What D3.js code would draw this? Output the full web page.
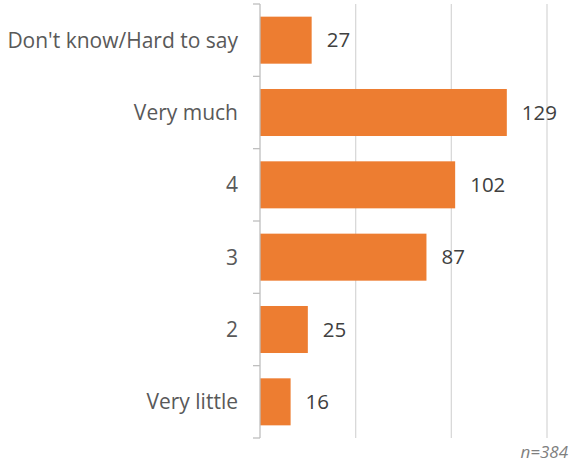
<!DOCTYPE html>
<html>
<head>
<meta charset="utf-8">
<script src="https://cdn.jsdelivr.net/npm/d3@7"></script>
<style>
  html, body { margin: 0; padding: 0; background: #fff; }
  svg { display: block; font-family: "Open Sans", sans-serif; }
</style>
</head>
<body>
<svg id="chart" width="571" height="464"></svg>
<script>
// Survey responses, top to bottom
const categories = ["Don't know/Hard to say", "Very much", "4", "3", "2", "Very little"];
const counts = [27, 129, 102, 87, 25, 16];
const gridTicks = [0, 50, 100, 150];
const note = "n=384";

const svg = d3.select("#chart");
const margin = { top: 4, left: 260, right: 24, bottom: 26 };
const width = 571, height = 464;

const x = d3.scaleLinear().domain([0, 150]).range([margin.left, width - margin.right]);
const y = d3.scaleBand().domain(categories)
  .range([margin.top, height - margin.bottom])
  .paddingInner(0.35).paddingOuter(0.175);

// vertical gridlines
svg.append("g").selectAll("line")
  .data(gridTicks.slice(1))
  .join("line")
  .attr("x1", d => x(d)).attr("x2", d => x(d))
  .attr("y1", margin.top).attr("y2", height - margin.bottom)
  .attr("stroke", "#d9d9d9").attr("stroke-width", 1.3);

// bars
svg.append("g").selectAll("rect")
  .data(categories)
  .join("rect")
  .attr("x", x(0))
  .attr("y", d => y(d))
  .attr("width", (d, i) => x(counts[i]) - x(0))
  .attr("height", y.bandwidth())
  .attr("fill", "#ed7d31");

// category axis with tick marks between bands
const axisG = svg.append("g");
axisG.append("line")
  .attr("x1", x(0)).attr("x2", x(0))
  .attr("y1", margin.top).attr("y2", height - margin.bottom)
  .attr("stroke", "#bfbfbf").attr("stroke-width", 1.3);
const step = y.step();
const bounds = d3.range(categories.length + 1).map(i => y.range()[0] + i * step);
axisG.selectAll("line.tick")
  .data(bounds)
  .join("line").attr("class", "tick")
  .attr("x1", x(0) - 7).attr("x2", x(0))
  .attr("y1", d => d).attr("y2", d => d)
  .attr("stroke", "#bfbfbf").attr("stroke-width", 1.3);

axisG.selectAll("text")
  .data(categories)
  .join("text")
  .attr("x", x(0) - 22)
  .attr("y", d => y(d) + y.bandwidth() / 2)
  .attr("dy", "0.35em")
  .attr("text-anchor", "end")
  .attr("font-size", 21)
  .attr("fill", "#595959")
  .text(d => d);

// value labels
svg.append("g").selectAll("text")
  .data(categories)
  .join("text")
  .attr("x", (d, i) => x(counts[i]) + 15)
  .attr("y", d => y(d) + y.bandwidth() / 2)
  .attr("dy", "0.35em")
  .attr("font-size", 20.5)
  .attr("fill", "#404040")
  .text((d, i) => counts[i]);

// sample size note
svg.append("text")
  .attr("x", 568).attr("y", 458)
  .attr("text-anchor", "end")
  .attr("font-size", 17)
  .attr("font-style", "italic")
  .attr("fill", "#7f7f7f")
  .text(note);
</script>
</body>
</html>
